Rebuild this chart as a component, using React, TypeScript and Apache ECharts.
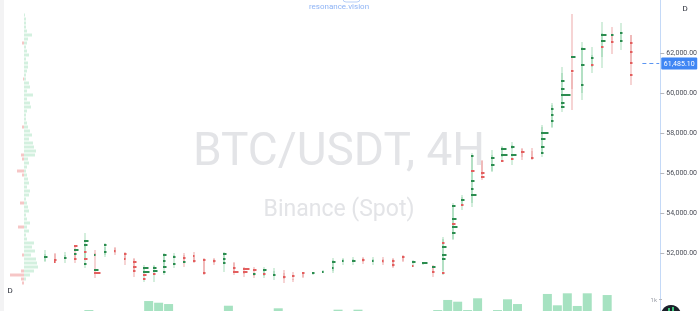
import React, { useEffect, useRef } from 'react';
import * as echarts from 'echarts';

// ---- data ----
const slotCount = 62; // 60 candles + 2 empty slots before the price axis
const candleSlots = Array.from({ length: slotCount }, (_, i) => `#${i + 1}`);

const opens = [
  51600, 51950, 51700, 51900, 51750, 52000, 51900, 52250, 52000, 51700,
  51100, 51250, 51350, 51850, 51900, 51800, 51600, 51700, 51500, 51500,
  51100, 51000, 50850, 50950, 51000, 50700, 51000, 50950, 51000, 51100,
  51550, 51650, 51750, 51550, 51700, 51700, 51800, 51500, 51450, 51350,
  51100, 52700, 54400, 54500, 56600, 56100, 56800, 57200, 57200, 57100,
  57000, 58300, 59300, 61000, 60000, 61300, 61800, 62900, 62600, 62900,
];
const closes = [
  51950, 51700, 51900, 51750, 52450, 51900, 52300, 52000, 51700, 51100,
  51300, 51350, 51900, 51900, 51550, 51550, 51050, 51500, 51950, 51050,
  50950, 50850, 51100, 51100, 50700, 50650, 50800, 51050, 51100, 51650,
  51700, 51700, 51550, 51700, 51500, 51300, 51600, 51600, 51500, 51100,
  52700, 54400, 54800, 56800, 55900, 56900, 57300, 57400, 56800, 56800,
  58300, 59400, 61000, 60200, 62300, 61900, 63000, 62600, 63000, 61485.1,
];
const highs = [
  52150, 52000, 52050, 52400, 53000, 52150, 52500, 52300, 52050, 51750,
  51400, 51400, 52000, 52000, 52000, 52050, 51750, 51750, 52050, 51550,
  51300, 51300, 51300, 51250, 51150, 51050, 51050, 51050, 51150, 51750,
  51750, 51800, 51800, 51800, 51800, 51750, 51900, 51650, 51550, 51400,
  52800, 54500, 54900, 57000, 56650, 57150, 57350, 57550, 57250, 57250,
  58400, 59500, 61300, 63950, 62550, 62300, 63550, 63300, 63500, 62750,
];
const lows = [
  51550, 51500, 51500, 51500, 51250, 50750, 51800, 51900, 51400, 50800,
  50550, 50550, 50900, 51250, 51300, 51500, 50900, 51400, 51050, 50900,
  50800, 50750, 50750, 50650, 50500, 50550, 50750, 50900, 51000, 51000,
  51400, 51400, 51450, 51400, 51400, 51250, 51550, 51300, 51400, 50800,
  50900, 52650, 54150, 54300, 55650, 56050, 56550, 56400, 56650, 56650,
  56800, 58250, 59050, 59150, 59650, 61000, 61250, 61950, 62150, 60400,
];
const volumes = [
  0, 0, 0, 0, 80, 0, 0, 0, 0, 0,
  830, 690, 580, 0, 0, 0, 0, 0, 440, 0,
  0, 0, 0, 225, 0, 0, 0, 0, 0, 110,
  0, 110, 0, 0, 0, 0, 0, 0, 0, 80,
  920, 775, 80, 1060, 0, 80, 975, 580, 0, 0,
  1420, 475, 1475, 420, 1475, 0, 1330, 0, 0, 0,
];

// footprint nodes: [candle, price, size, side (1 buy / -1 sell)]
const footprint: [number, number, number, number][] = [
  [0, 51800, 3, 1], [1, 51650, 2, -1], [1, 51550, 1, -1], [2, 51750, 2, 1],
  [3, 52350, 3, -1], [3, 52150, 4, 1], [3, 51950, 2, 1], [3, 51700, 2, -1],
  [4, 52600, 4, 1], [4, 52400, 3, 1], [4, 52050, 2, -1], [4, 51700, 3, -1], [4, 51450, 2, 1],
  [5, 51900, 1, 1], [5, 51150, 4, 1], [5, 51000, 6, -1],
  [6, 52400, 2, 1], [6, 52050, 2, 1], [7, 52100, 1, -1],
  [8, 51950, 2, -1], [8, 51700, 1, -1],
  [9, 51550, 3, -1], [9, 51300, 3, -1], [9, 51100, 2, -1],
  [10, 51250, 5, 1], [10, 51050, 6, 1], [10, 50900, 3, -1], [10, 50700, 2, -1],
  [11, 51250, 3, 1], [11, 51100, 4, 1], [11, 50950, 2, -1],
  [12, 51900, 3, 1], [12, 51600, 2, 1], [12, 51300, 3, 1], [12, 51050, 2, 1],
  [13, 51800, 2, 1], [13, 51450, 2, 1],
  [14, 51750, 2, -1], [14, 51550, 2, 1],
  [15, 51850, 1, -1], [15, 51600, 2, -1],
  [16, 51650, 2, -1], [16, 51000, 2, -1], [17, 51600, 2, -1],
  [18, 51950, 3, 1], [18, 51700, 2, 1], [18, 51500, 2, 1],
  [19, 51250, 2, -1], [19, 51050, 5, -1],
  [20, 51200, 6, -1], [20, 51050, 4, -1],
  [21, 51150, 3, -1], [21, 50950, 2, 1],
  [22, 51150, 3, 1], [22, 50950, 2, -1],
  [23, 50900, 2, 1], [24, 50800, 2, -1], [25, 50850, 2, -1], [26, 51000, 2, -1],
  [27, 51000, 2, 1], [28, 51050, 1, 1],
  [29, 51550, 3, 1], [29, 51250, 1, 1], [30, 51600, 1, 1], [31, 51600, 3, 1],
  [32, 51650, 2, -1], [33, 51600, 1, 1], [34, 51600, 1, -1],
  [35, 51600, 2, -1], [35, 51400, 2, -1], [36, 51800, 2, -1],
  [37, 51550, 3, 1], [37, 51350, 1, -1], [38, 51500, 5, 1],
  [39, 51300, 3, 1], [39, 51050, 2, -1],
  [40, 52500, 2, -1], [40, 52300, 4, 1], [40, 51900, 4, 1], [40, 51700, 3, 1], [40, 51000, 2, -1],
  [41, 54350, 3, 1], [41, 53700, 4, 1], [41, 53450, 3, -1], [41, 53300, 5, 1], [41, 53000, 3, 1],
  [42, 54650, 3, 1], [42, 54400, 2, -1],
  [43, 56850, 2, 1], [43, 56100, 3, -1], [43, 55600, 3, 1], [43, 55200, 2, 1], [43, 54900, 5, 1],
  [44, 56000, 3, -1], [44, 55800, 3, -1],
  [45, 56750, 3, 1], [45, 56400, 3, 1],
  [46, 57200, 5, 1], [46, 56900, 6, 1], [46, 56600, 2, -1],
  [47, 57300, 3, 1], [47, 56900, 5, 1], [47, 56700, 2, -1],
  [48, 57050, 3, -1], [49, 56750, 2, -1],
  [50, 58000, 7, 1], [50, 57700, 4, 1], [50, 57300, 3, 1], [50, 57000, 2, 1],
  [51, 59200, 2, 1], [51, 58900, 2, 1], [51, 58600, 2, 1],
  [52, 60600, 3, 1], [52, 60200, 3, 1], [52, 59900, 9, 1], [52, 59500, 3, 1], [52, 59300, 3, 1],
  [53, 61800, 4, 1], [53, 61100, 2, -1],
  [54, 62200, 4, 1], [54, 61400, 3, 1], [54, 60400, 2, 1],
  [55, 61750, 2, 1], [55, 61400, 2, -1],
  [56, 62900, 5, 1], [56, 62600, 4, 1], [56, 62300, 2, -1],
  [57, 62900, 2, 1], [57, 62550, 2, -1],
  [58, 63000, 2, 1], [58, 62600, 2, 1],
  [59, 62500, 2, -1], [59, 62050, 2, -1], [59, 61500, 2, -1], [59, 60900, 2, -1],
];

// session volume profile (bins of 200 from the top)
const profileLevels = Array.from({ length: 68 }, (_, k) => 63900 - 200 * k);
const profileBuy = [
  1, 2, 2, 2, 3, 8, 4, 3, 2, 3, 5, 2, 4, 4, 3, 2, 2, 5, 6, 3,
  9, 3, 6, 7, 3, 2, 2, 3, 4, 6, 8, 5, 9, 10, 12, 11, 4, 5, 3, 2,
  3, 4, 5, 3, 6, 5, 2, 3, 4, 5, 2, 3, 6, 3, 5, 2, 3, 10, 8, 11,
  7, 12, 13, 14, 10, 6, 2, 0,
];
const profileSell = [
  0, 0, 0, 0, 0, 0, 0, 2, 0, 0, 0, 0, 0, 0, 0, 0, 1, 0, 0, 0,
  0, 0, 0, 0, 0, 0, 0, 0, 2, 0, 0, 0, 0, 0, 0, 3, 2, 0, 0, 7,
  2, 0, 0, 0, 0, 0, 0, 4, 0, 0, 0, 0, 0, 6, 0, 0, 0, 0, 0, 0,
  2, 0, 0, 0, 3, 14, 3, 2,
];
const priceTicks = [52000, 54000, 56000, 58000, 60000, 62000];
const lastPrice = 61485.1;
const priceMin = 49100;
const priceMax = 64650;

const fmt = (v: number) =>
  v.toLocaleString('en-US', { minimumFractionDigits: 2, maximumFractionDigits: 2 });

export default function App() {
  const ref = useRef<HTMLDivElement>(null);
  useEffect(() => {
    const chart = echarts.init(ref.current!, null, { renderer: 'svg' });
    const candleData = opens.map((o, i) => [i, o, closes[i], lows[i], highs[i]]);
    const profileData = profileLevels.map((p, k) => [p, profileBuy[k], profileSell[k]]);
    const wickX = (api: any, i: number, p: number) => {
      const c = api.coord([i, p]);
      const w = api.size([1, 0])[0];
      return Math.round(c[0] - w / 2) + 1;
    };
    const option: any = {
      animation: false,
      grid: [
        { left: 44, right: 38, top: 0, bottom: 0 },
        { left: 0, width: 50, top: 0, bottom: 0 },
        { left: 44, right: 38, top: 251, bottom: 0 },
      ],
      xAxis: [
        { gridIndex: 0, type: 'category', data: candleSlots, show: false },
        { gridIndex: 1, type: 'value', min: -24, max: 26, show: false },
        { gridIndex: 2, type: 'category', data: candleSlots, show: false },
      ],
      yAxis: [
        {
          gridIndex: 0, type: 'value', min: priceMin, max: priceMax, position: 'right',
          axisLine: { show: true, lineStyle: { color: '#c4d9f7', width: 1 } },
          axisTick: { show: true, length: 4, customValues: priceTicks, lineStyle: { color: '#b4b7bf' } },
          axisLabel: {
            margin: 6, fontSize: 7, color: '#4a4d57', fontFamily: 'Roboto',
            customValues: priceTicks,
            formatter: (v: number) => fmt(v),
          },
          splitLine: { show: false },
        },
        { gridIndex: 1, type: 'value', min: priceMin, max: priceMax, show: false },
        {
          gridIndex: 2, type: 'value', min: 0, max: 5000, interval: 1000, position: 'right',
          axisLine: { show: false },
          axisTick: { show: true, inside: true, length: 3, customValues: [1000], lineStyle: { color: '#b4b7bf' } },
          axisLabel: {
            inside: true, margin: 5, fontSize: 6, color: '#9a9da6', fontFamily: 'Roboto',
            customValues: [1000],
            formatter: (v: number) => (v === 1000 ? '1k' : ''),
          },
          splitLine: { show: false },
        },
      ],
      graphic: [
        { type: 'rect', shape: { x: 0, y: 0, width: 4, height: 311 }, style: { fill: '#f3f3f4' }, z: -1 },
        {
          type: 'text', x: 339, y: 149, z: -1,
          style: { text: 'BTC/USDT, 4H', fill: '#e3e4e7', font: '46px Roboto', textAlign: 'center', textVerticalAlign: 'middle' },
        },
        {
          type: 'text', x: 339, y: 208, z: -1,
          style: { text: 'Binance (Spot)', fill: '#e3e4e7', font: '23px Roboto', textAlign: 'center', textVerticalAlign: 'middle' },
        },
        { type: 'rect', shape: { x: 343, y: -6, width: 17, height: 8, r: 3 }, style: { fill: 'none', stroke: '#b7cff8', lineWidth: 1 } },
        {
          type: 'text', x: 339, y: 6,
          style: { text: 'resonance.vision', fill: '#8fb4f5', font: '8px Roboto', textAlign: 'center', textVerticalAlign: 'middle' },
        },
        { type: 'text', x: 685, y: 8, style: { text: 'D', fill: '#2a2e39', font: '8px Roboto', textAlign: 'center', textVerticalAlign: 'middle' } },
        { type: 'text', x: 10, y: 290, style: { text: 'D', fill: '#2a2e39', font: '8px Roboto', textAlign: 'center', textVerticalAlign: 'middle' } },
        { type: 'circle', shape: { cx: 671, cy: 315, r: 10 }, style: { fill: '#1b1f2a' } },
        { type: 'rect', shape: { x: 668, y: 308, width: 2, height: 5 }, style: { fill: '#3ec27a' } },
        { type: 'rect', shape: { x: 672, y: 307, width: 2, height: 6 }, style: { fill: '#3ec27a' } },
      ],
      series: [
        {
          type: 'custom', name: 'profile', xAxisIndex: 1, yAxisIndex: 1,
          encode: { x: [1, 2], y: 0 },
          data: profileData,
          renderItem: (params: any, api: any) => {
            const p = api.value(0);
            const buy = api.value(1);
            const sell = api.value(2);
            const base = api.coord([0, p]);
            const b = api.coord([buy, p]);
            const s = api.coord([-sell, p]);
            const children: any[] = [];
            if (buy > 0) children.push({ type: 'rect', shape: { x: base[0], y: base[1] - 1.5, width: b[0] - base[0], height: 3 }, style: { fill: '#d3f0df' } });
            if (sell > 0) children.push({ type: 'rect', shape: { x: s[0], y: base[1] - 1.5, width: base[0] - s[0], height: 3 }, style: { fill: '#f6c6c6' } });
            return { type: 'group', children };
          },
        },
        {
          type: 'custom', name: 'candles', xAxisIndex: 0, yAxisIndex: 0,
          encode: { x: 0, y: [1, 2, 3, 4] },
          data: candleData,
          renderItem: (params: any, api: any) => {
            const i = api.value(0);
            const o = api.value(1), c = api.value(2), l = api.value(3), h = api.value(4);
            const x = wickX(api, i, l);
            const yl = api.coord([i, l])[1];
            const yh = api.coord([i, h])[1];
            const yo = api.coord([i, o])[1];
            const yc = api.coord([i, c])[1];
            const up = c >= o;
            return {
              type: 'group',
              children: [
                { type: 'rect', shape: { x: x - 1, y: yh, width: 2, height: yl - yh }, style: { fill: up ? '#d4eedd' : '#f6d4d4' } },
                { type: 'rect', shape: { x: x - 1, y: Math.min(yo, yc), width: 2, height: Math.max(1, Math.abs(yo - yc)) }, style: { fill: up ? '#b3e0c4' : '#f0baba' } },
              ],
            };
          },
        },
        {
          type: 'custom', name: 'footprint', xAxisIndex: 0, yAxisIndex: 0,
          encode: { x: 0, y: 1 },
          data: footprint,
          renderItem: (params: any, api: any) => {
            const i = api.value(0);
            const p = api.value(1);
            const size = api.value(2);
            const side = api.value(3);
            const x = wickX(api, i, p);
            const y = api.coord([i, p])[1];
            return {
              type: 'rect',
              shape: { x: x - 1, y: Math.round(y) - 1, width: size + 0.5, height: 2 },
              style: { fill: side > 0 ? '#2b8c4f' : '#e35e5e' },
            };
          },
        },
        {
          type: 'custom', name: 'last', xAxisIndex: 0, yAxisIndex: 0,
          encode: { x: 0, y: 1 },
          data: [[closes.length - 1, lastPrice]],
          renderItem: (params: any, api: any) => {
            const i = api.value(0);
            const p = api.value(1);
            const c = api.coord([i, p]);
            const w = api.size([1, 0])[0];
            const right = params.coordSys.x + params.coordSys.width;
            const y = Math.round(c[1]) + 0.5;
            return {
              type: 'group',
              children: [
                { type: 'line', shape: { x1: c[0] + w / 2 + 2, y1: y, x2: right - 1, y2: y }, style: { stroke: '#5b95f2', lineWidth: 1, lineDash: [4, 3] } },
                { type: 'rect', shape: { x: right + 1, y: y - 6, width: 36, height: 12, r: 1 }, style: { fill: '#3f86f4' } },
                { type: 'text', x: right + 19, y: y, style: { text: fmt(p), fill: '#ffffff', font: '7px Roboto', textAlign: 'center', textVerticalAlign: 'middle' } },
              ],
            };
          },
        },
        {
          type: 'bar', name: 'volume', xAxisIndex: 2, yAxisIndex: 2,
          data: volumes, barWidth: 9,
          itemStyle: { color: '#a6e2c1' },
        },
      ],
    };
    chart.setOption(option);
    return () => chart.dispose();
  }, []);
  return <div ref={ref} style={{ position: 'fixed', left: 0, top: 0, width: 700, height: 311 }} />;
}
